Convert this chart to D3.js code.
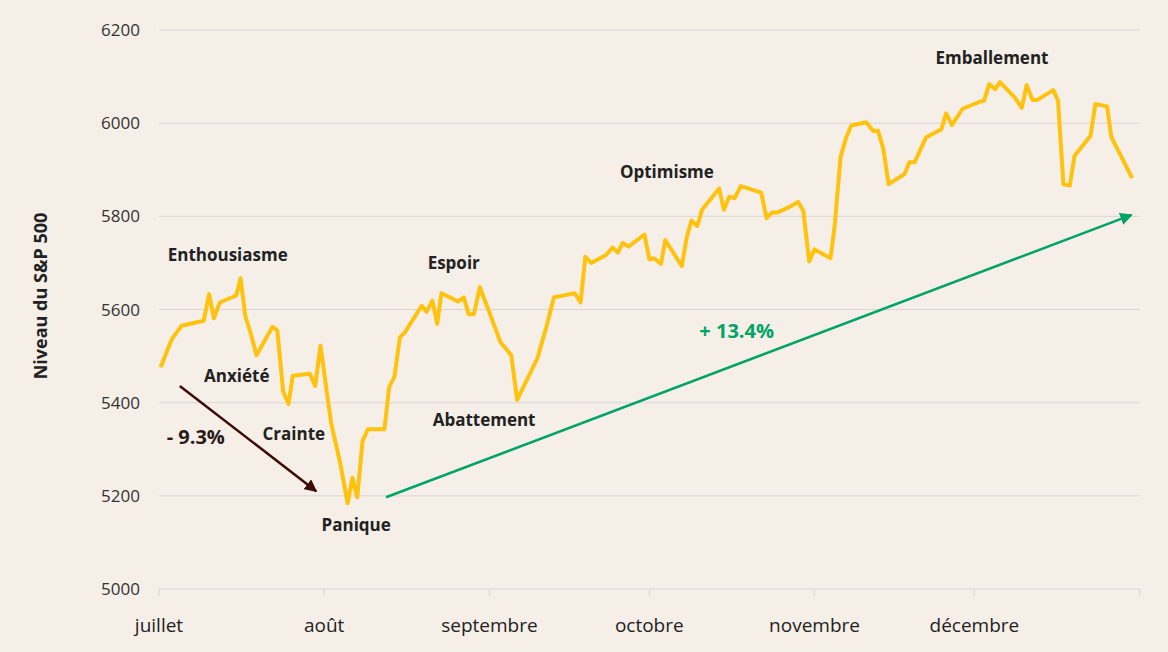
<!DOCTYPE html>
<html><head><meta charset="utf-8">
<script src="https://cdn.jsdelivr.net/npm/d3@7"></script>
<style>body{margin:0;background:#f5efe8;}svg{display:block;font-family:"Open Sans","Noto Sans",sans-serif;}</style>
</head><body><svg id="c" width="1168" height="652"></svg>
<script>
// days since 1 July
const days = [0.3,2.4,4.2,8.4,9.4,10.3,11.4,14.5,15.3,16.2,17.2,18.3,21.3,22.2,23.3,24.3,25.1,28.3,29.3,30.3,32.3,34,35.4,36.3,37.2,38.2,39.2,42.3,43.2,44.2,45.2,46.2,49.3,50.2,51.3,52.2,53,56.1,57.2,58.1,59.1,60.2,64.1,66.1,67.2,71,72.7,74.1,78,79.1,80,81.1,83.9,85.1,86.1,87,88.1,91.1,92,92.9,94.2,95,98.1,99,99.9,101,101.9,105.1,106,107,108,109.2,113,114,115,116,118.8,119.9,120.9,122,123,126,126.8,127.9,129,129.9,132.7,134,134.9,135.9,136.9,139.9,140.8,141.8,143.9,146.8,147.7,148.8,150.8,154,154.8,155.8,156.9,157.8,160.6,161.9,162.8,163.9,164.8,167.8,168.7,169.7,170.9,171.8,174.8,175.7,177.9,178.7,181.5,182.6];
const values = [5476,5536,5565,5576,5633,5581,5615,5630,5667,5586,5549,5502,5563,5555,5424,5397,5458,5462,5436,5522,5356,5270,5184,5239,5197,5318,5343,5343,5434,5456,5540,5552,5608,5595,5619,5569,5635,5617,5626,5590,5590,5648,5529,5502,5406,5495,5563,5626,5635,5615,5713,5700,5717,5733,5722,5743,5735,5761,5708,5710,5698,5749,5693,5753,5791,5779,5814,5860,5814,5842,5839,5865,5851,5796,5808,5808,5823,5831,5812,5703,5729,5710,5781,5928,5971,5995,6002,5983,5984,5946,5869,5891,5916,5916,5969,5987,6021,5996,6031,6046,6048,6084,6073,6088,6055,6033,6082,6050,6050,6071,6048,5869,5866,5930,5973,6041,6036,5970,5907,5882];
const monthDays = [0,31,62,92,123,153,184];
const monthLabels = ["juillet","août","septembre","octobre","novembre","décembre",""];
const yTicks = [5000,5200,5400,5600,5800,6000,6200];
const labels = [
 {t:"Enthousiasme",d:12.9,v:5704},{t:"Anxiété",d:14.6,v:5444},{t:"Crainte",d:25.3,v:5320},
 {t:"Panique",d:37,v:5125},{t:"Espoir",d:55.3,v:5687},{t:"Abattement",d:61,v:5350},
 {t:"Optimisme",d:95.3,v:5882},{t:"Emballement",d:156.3,v:6127}];
const pctLabels = [{t:"- 9.3%",d:6.9,v:5311,c:"#2a1a1a"},{t:"+ 13.4%",d:108.4,v:5539,c:"#00a366"}];
const arrows = [{d0:3.9,v0:5436,d1:29.5,v1:5210,c:"#3d0a0a"},{d0:42.6,v0:5197,d1:182.5,v1:5803,c:"#00a366"}];

const svg = d3.select("#c");
const x = d3.scaleLinear().domain([0,184]).range([159,1139.6]);
const y = d3.scaleLinear().domain([5000,6200]).range([589,30]);

svg.append("g").selectAll("line").data(yTicks).join("line")
 .attr("x1",159).attr("x2",1139.6).attr("y1",d=>y(d)).attr("y2",d=>y(d))
 .attr("stroke","#d9d6d2").attr("stroke-width",1);
svg.append("g").selectAll("line").data(monthDays).join("line")
 .attr("x1",d=>x(d)).attr("x2",d=>x(d)).attr("y1",589).attr("y2",596)
 .attr("stroke","#d9d6d2");
svg.append("g").selectAll("text").data(yTicks).join("text")
 .attr("x",140).attr("y",d=>y(d)+6).attr("text-anchor","end")
 .attr("font-size",17).attr("fill","#333").text(d=>d);
svg.append("g").selectAll("text").data(monthDays).join("text")
 .attr("x",d=>x(d)).attr("y",632).attr("text-anchor","middle")
 .attr("font-size",19).attr("fill","#222").text((d,i)=>monthLabels[i]);
svg.append("text").attr("transform","translate(47,296) rotate(-90)")
 .attr("text-anchor","middle").attr("font-size",18).attr("font-weight","bold")
 .attr("fill","#222").text("Niveau du S&P 500");

const defs = svg.append("defs");
arrows.forEach((a,i)=>{
 defs.append("marker").attr("id","m"+i).attr("viewBox","0 0 10 10").attr("refX",9).attr("refY",5)
  .attr("markerWidth",5).attr("markerHeight",5).attr("orient","auto")
  .append("path").attr("d","M0,0L10,5L0,10Z").attr("fill",a.c);
 svg.append("line").attr("x1",x(a.d0)).attr("y1",y(a.v0)).attr("x2",x(a.d1)).attr("y2",y(a.v1))
  .attr("stroke",a.c).attr("stroke-width",2.5).attr("marker-end",`url(#m${i})`);
});

const line = d3.line().x((d,i)=>x(days[i])).y((d,i)=>y(values[i]));
svg.append("path").datum(values).attr("d",line).attr("fill","none")
 .attr("stroke","#ffc20e").attr("stroke-width",4).attr("stroke-linejoin","round");

svg.append("g").selectAll("text").data(labels).join("text")
 .attr("x",d=>x(d.d)).attr("y",d=>y(d.v)).attr("text-anchor","middle")
 .attr("font-size",17).attr("font-weight","bold").attr("fill","#222").text(d=>d.t);
svg.append("g").selectAll("text").data(pctLabels).join("text")
 .attr("x",d=>x(d.d)).attr("y",d=>y(d.v)).attr("text-anchor","middle")
 .attr("font-size",20).attr("font-weight","bold").attr("fill",d=>d.c).text(d=>d.t);
</script></body></html>
